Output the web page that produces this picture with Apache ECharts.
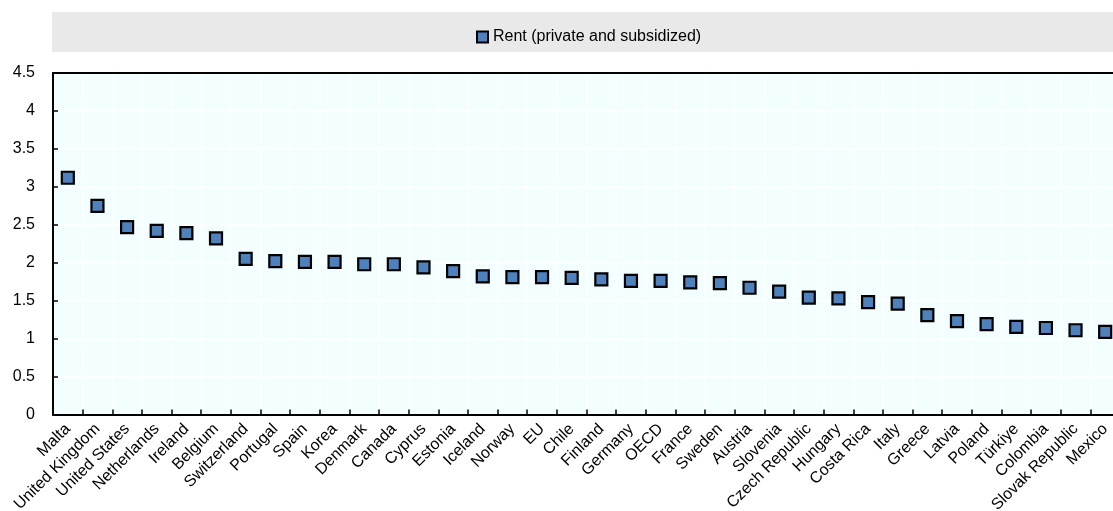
<!DOCTYPE html>
<html>
<head>
<meta charset="utf-8">
<script src="https://cdn.jsdelivr.net/npm/echarts@6/dist/echarts.min.js"></script>
<style>
html,body{margin:0;padding:0;background:#fff;}
#chart{width:1113px;height:511px;}
</style>
</head>
<body>
<div id="chart"></div>
<script>
const categories = ["Malta","United Kingdom","United States","Netherlands","Ireland","Belgium","Switzerland","Portugal","Spain","Korea","Denmark","Canada","Cyprus","Estonia","Iceland","Norway","EU","Chile","Finland","Germany","OECD","France","Sweden","Austria","Slovenia","Czech Republic","Hungary","Costa Rica","Italy","Greece","Latvia","Poland","Türkiye","Colombia","Slovak Republic","Mexico"];
const rentValues = [3.12,2.75,2.47,2.42,2.39,2.32,2.05,2.02,2.01,2.01,1.98,1.98,1.94,1.89,1.82,1.81,1.81,1.80,1.78,1.76,1.76,1.74,1.73,1.67,1.62,1.54,1.53,1.48,1.46,1.31,1.23,1.19,1.155,1.14,1.11,1.09];
const seriesName = "Rent (private and subsidized)";
const yMin = 0, yMax = 4.5, yStep = 0.5;

const FONT = "'Liberation Sans',Arial,sans-serif";
const chart = echarts.init(document.getElementById('chart'), null, {renderer:'canvas'});
chart.setOption({
  animation:false,
  backgroundColor:'#fff',
  graphic:[{type:'rect',z:-10,shape:{x:52,y:12,width:1061,height:40},style:{fill:'#E9E9E9'}}],
  legend:{
    top:24,left:471,
    icon:'rect',itemWidth:11,itemHeight:11,itemGap:6,
    textStyle:{fontFamily:FONT,fontSize:16,color:'#000'},
    data:[seriesName]
  },
  grid:{left:53,right:-7,top:73,bottom:96.5,outerBoundsMode:'none',containLabel:false,show:true,backgroundColor:'#F2FEFF',borderColor:'#000',borderWidth:0},
  xAxis:[{
    type:'category',data:categories,boundaryGap:true,
    axisLine:{lineStyle:{color:'#000',width:2}},
    axisTick:{show:true,inside:true,length:5,interval:0,lineStyle:{color:'#000',width:1.5}},
    splitLine:{show:true,interval:0,lineStyle:{color:'#fff',width:1.5}},
    axisLabel:{interval:0,rotate:45,margin:12,fontFamily:FONT,fontSize:16,color:'#000'}
  },{
    type:'category',data:categories,position:'top',boundaryGap:true,
    axisLine:{show:true,lineStyle:{color:'#000',width:2}},
    axisTick:{show:false},axisLabel:{show:false},splitLine:{show:false}
  }],
  yAxis:{
    type:'value',min:yMin,max:yMax,interval:yStep,
    axisLine:{show:true,lineStyle:{color:'#000',width:2}},
    axisTick:{show:true,inside:true,length:5,lineStyle:{color:'#000',width:1.5}},
    splitLine:{show:true,lineStyle:{color:'#fff',width:1.5}},
    axisLabel:{margin:18,fontFamily:FONT,fontSize:16,color:'#000'}
  },
  series:[{
    name:seriesName,type:'scatter',data:rentValues,
    symbol:'rect',symbolSize:12,
    itemStyle:{color:'#4F81BD',borderColor:'#000',borderWidth:2.2,opacity:1}
  }]
});
</script>
</body>
</html>
